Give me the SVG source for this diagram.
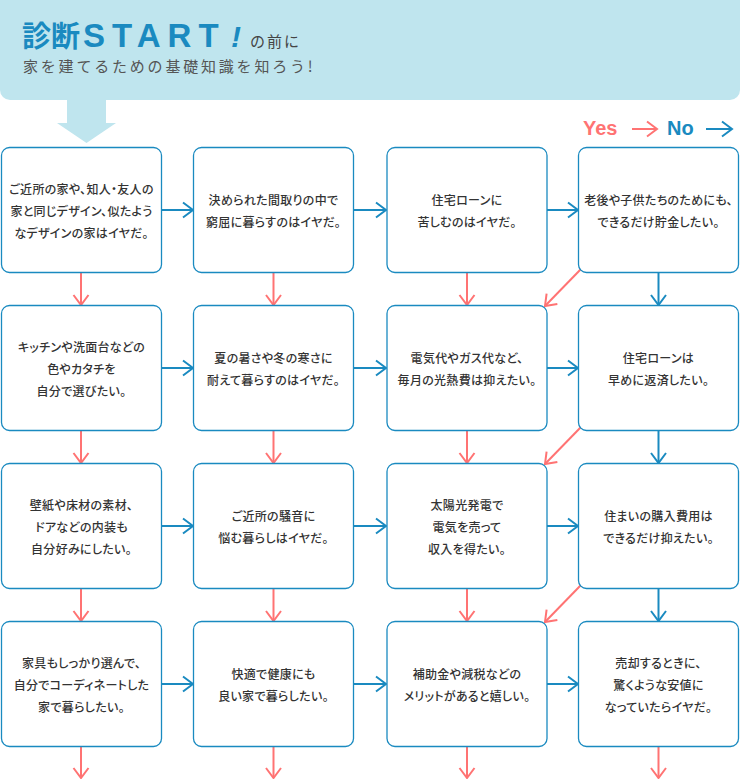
<svg xmlns="http://www.w3.org/2000/svg" width="740" height="779" viewBox="0 0 740 779">
<style>
.box{fill:#fff;stroke:#1a8ac0;stroke-width:1.3}
.t{font-family:"Noto Sans CJK JP","Noto Sans",sans-serif;font-size:12px;fill:#333;text-anchor:middle;font-weight:500;font-feature-settings:"palt";letter-spacing:0.3px}
.no{fill:none;stroke:#1a8ac0;stroke-width:2}
.yes{fill:none;stroke:#ff7373;stroke-width:2}
</style>
<defs>
<marker id="hb" markerUnits="userSpaceOnUse" viewBox="-12 -9 14 18" refX="0" refY="0" markerWidth="14" markerHeight="18" orient="auto">
<path d="M-10,-7.5 L0,0 L-10,7.5" fill="none" stroke="#1a8ac0" stroke-width="2"/>
</marker>
<marker id="hr" markerUnits="userSpaceOnUse" viewBox="-12 -9 14 18" refX="0" refY="0" markerWidth="14" markerHeight="18" orient="auto">
<path d="M-10,-7.5 L0,0 L-10,7.5" fill="none" stroke="#ff7373" stroke-width="2"/>
</marker>
</defs>
<g id="header">
<rect x="0" y="-12" width="740" height="112" rx="10" fill="#bfe5ee"/>
<polygon points="67,100 106,100 106,123 116,123 86.5,143 57,123 67,123" fill="#bfe5ee"/>
<text x="22" y="47" font-family="'Noto Sans CJK JP',sans-serif" font-size="29" font-weight="bold" fill="#1a8ac0">診断</text>
<text x="83" y="47" font-family="'Liberation Sans',Arial,sans-serif" font-size="33" font-weight="bold" fill="#1a8ac0" letter-spacing="7">START</text>
<text x="231" y="47" font-family="'Liberation Sans',Arial,sans-serif" font-size="30" font-weight="bold" font-style="italic" fill="#1a8ac0">!</text>
<text x="250" y="47" font-family="'Noto Sans CJK JP',sans-serif" font-size="15" fill="#444" letter-spacing="2">の前に</text>
<text x="23" y="72" font-family="'Noto Sans CJK JP',sans-serif" font-size="15" fill="#555" letter-spacing="2.8">家を建てるための基礎知識を知ろう!</text>
</g>
<g id="legend">
<text x="583" y="135" font-family="'Liberation Sans',Arial,sans-serif" font-size="20" font-weight="bold" fill="#ff7373">Yes</text>
<line x1="632" y1="129" x2="657" y2="129" class="yes" marker-end="url(#hr)"/>
<text x="667" y="135" font-family="'Liberation Sans',Arial,sans-serif" font-size="20" font-weight="bold" fill="#1a8ac0">No</text>
<line x1="706" y1="129" x2="732" y2="129" class="no" marker-end="url(#hb)"/>
</g>
<g id="connectors">
<line x1="162" y1="210" x2="193" y2="210" class="no" marker-end="url(#hb)"/>
<line x1="354" y1="210" x2="386" y2="210" class="no" marker-end="url(#hb)"/>
<line x1="547" y1="210" x2="578" y2="210" class="no" marker-end="url(#hb)"/>
<line x1="162" y1="368" x2="193" y2="368" class="no" marker-end="url(#hb)"/>
<line x1="354" y1="368" x2="386" y2="368" class="no" marker-end="url(#hb)"/>
<line x1="547" y1="368" x2="578" y2="368" class="no" marker-end="url(#hb)"/>
<line x1="162" y1="526" x2="193" y2="526" class="no" marker-end="url(#hb)"/>
<line x1="354" y1="526" x2="386" y2="526" class="no" marker-end="url(#hb)"/>
<line x1="547" y1="526" x2="578" y2="526" class="no" marker-end="url(#hb)"/>
<line x1="162" y1="684" x2="193" y2="684" class="no" marker-end="url(#hb)"/>
<line x1="354" y1="684" x2="386" y2="684" class="no" marker-end="url(#hb)"/>
<line x1="547" y1="684" x2="578" y2="684" class="no" marker-end="url(#hb)"/>
<line x1="81" y1="273" x2="81" y2="305" class="yes" marker-end="url(#hr)"/>
<line x1="273.5" y1="273" x2="273.5" y2="305" class="yes" marker-end="url(#hr)"/>
<line x1="467" y1="273" x2="467" y2="305" class="yes" marker-end="url(#hr)"/>
<line x1="658.5" y1="273" x2="658.5" y2="305" class="no" marker-end="url(#hb)"/>
<line x1="81" y1="431" x2="81" y2="463" class="yes" marker-end="url(#hr)"/>
<line x1="273.5" y1="431" x2="273.5" y2="463" class="yes" marker-end="url(#hr)"/>
<line x1="467" y1="431" x2="467" y2="463" class="yes" marker-end="url(#hr)"/>
<line x1="658.5" y1="431" x2="658.5" y2="463" class="no" marker-end="url(#hb)"/>
<line x1="81" y1="589" x2="81" y2="621" class="yes" marker-end="url(#hr)"/>
<line x1="273.5" y1="589" x2="273.5" y2="621" class="yes" marker-end="url(#hr)"/>
<line x1="467" y1="589" x2="467" y2="621" class="yes" marker-end="url(#hr)"/>
<line x1="658.5" y1="589" x2="658.5" y2="621" class="no" marker-end="url(#hb)"/>
<line x1="81" y1="747" x2="81" y2="778" class="yes" marker-end="url(#hr)"/>
<line x1="273.5" y1="747" x2="273.5" y2="778" class="yes" marker-end="url(#hr)"/>
<line x1="467" y1="747" x2="467" y2="778" class="yes" marker-end="url(#hr)"/>
<line x1="658.5" y1="747" x2="658.5" y2="778" class="yes" marker-end="url(#hr)"/>
<line x1="581" y1="269" x2="545" y2="306" class="yes" marker-end="url(#hr)"/>
<line x1="581" y1="427" x2="545" y2="464" class="yes" marker-end="url(#hr)"/>
<line x1="581" y1="585" x2="545" y2="622" class="yes" marker-end="url(#hr)"/>
</g>
<g id="n1"><rect class="box" x="1.5" y="147.5" width="160" height="125" rx="8"/>
<text class="t" x="81.5" y="194">ご近所の家や、知人・友人の</text><text class="t" x="81.5" y="216">家と同じデザイン、似たよう</text><text class="t" x="81.5" y="238">なデザインの家はイヤだ。</text></g>
<g id="n2"><rect class="box" x="193.5" y="147.5" width="160" height="125" rx="8"/>
<text class="t" x="273.5" y="205">決められた間取りの中で</text><text class="t" x="273.5" y="227">窮屈に暮らすのはイヤだ。</text></g>
<g id="n3"><rect class="box" x="387" y="147.5" width="160" height="125" rx="8"/>
<text class="t" x="467" y="205">住宅ローンに</text><text class="t" x="467" y="227">苦しむのはイヤだ。</text></g>
<g id="n4"><rect class="box" x="578.5" y="147.5" width="160" height="125" rx="8"/>
<text class="t" x="658.5" y="205">老後や子供たちのためにも、</text><text class="t" x="658.5" y="227">できるだけ貯金したい。</text></g>
<g id="n5"><rect class="box" x="1.5" y="305.5" width="160" height="125" rx="8"/>
<text class="t" x="81.5" y="352">キッチンや洗面台などの</text><text class="t" x="81.5" y="374">色やカタチを</text><text class="t" x="81.5" y="396">自分で選びたい。</text></g>
<g id="n6"><rect class="box" x="193.5" y="305.5" width="160" height="125" rx="8"/>
<text class="t" x="273.5" y="363">夏の暑さや冬の寒さに</text><text class="t" x="273.5" y="385">耐えて暮らすのはイヤだ。</text></g>
<g id="n7"><rect class="box" x="387" y="305.5" width="160" height="125" rx="8"/>
<text class="t" x="467" y="363">電気代やガス代など、</text><text class="t" x="467" y="385">毎月の光熱費は抑えたい。</text></g>
<g id="n8"><rect class="box" x="578.5" y="305.5" width="160" height="125" rx="8"/>
<text class="t" x="658.5" y="363">住宅ローンは</text><text class="t" x="658.5" y="385">早めに返済したい。</text></g>
<g id="n9"><rect class="box" x="1.5" y="463.5" width="160" height="125" rx="8"/>
<text class="t" x="81.5" y="510">壁紙や床材の素材、</text><text class="t" x="81.5" y="532">ドアなどの内装も</text><text class="t" x="81.5" y="554">自分好みにしたい。</text></g>
<g id="n10"><rect class="box" x="193.5" y="463.5" width="160" height="125" rx="8"/>
<text class="t" x="273.5" y="521">ご近所の騒音に</text><text class="t" x="273.5" y="543">悩む暮らしはイヤだ。</text></g>
<g id="n11"><rect class="box" x="387" y="463.5" width="160" height="125" rx="8"/>
<text class="t" x="467" y="510">太陽光発電で</text><text class="t" x="467" y="532">電気を売って</text><text class="t" x="467" y="554">収入を得たい。</text></g>
<g id="n12"><rect class="box" x="578.5" y="463.5" width="160" height="125" rx="8"/>
<text class="t" x="658.5" y="521">住まいの購入費用は</text><text class="t" x="658.5" y="543">できるだけ抑えたい。</text></g>
<g id="n13"><rect class="box" x="1.5" y="621.5" width="160" height="125" rx="8"/>
<text class="t" x="81.5" y="668">家具もしっかり選んで、</text><text class="t" x="81.5" y="690">自分でコーディネートした</text><text class="t" x="81.5" y="712">家で暮らしたい。</text></g>
<g id="n14"><rect class="box" x="193.5" y="621.5" width="160" height="125" rx="8"/>
<text class="t" x="273.5" y="679">快適で健康にも</text><text class="t" x="273.5" y="701">良い家で暮らしたい。</text></g>
<g id="n15"><rect class="box" x="387" y="621.5" width="160" height="125" rx="8"/>
<text class="t" x="467" y="679">補助金や減税などの</text><text class="t" x="467" y="701">メリットがあると嬉しい。</text></g>
<g id="n16"><rect class="box" x="578.5" y="621.5" width="160" height="125" rx="8"/>
<text class="t" x="658.5" y="668">売却するときに、</text><text class="t" x="658.5" y="690">驚くような安値に</text><text class="t" x="658.5" y="712">なっていたらイヤだ。</text></g>
</svg>
